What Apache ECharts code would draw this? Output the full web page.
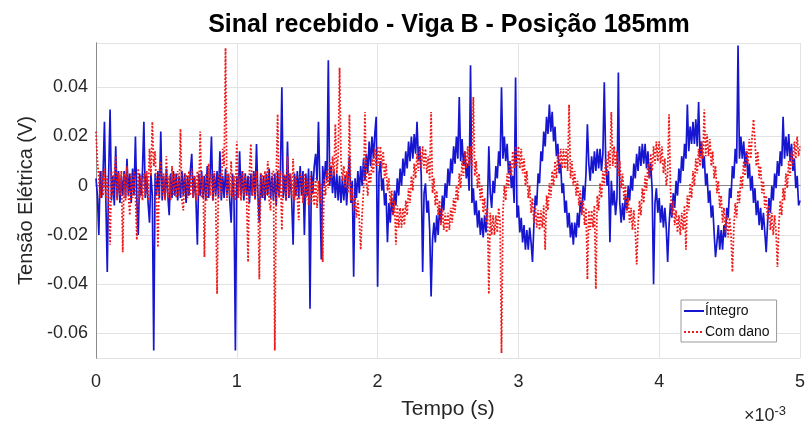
<!DOCTYPE html>
<html>
<head>
<meta charset="utf-8">
<script src="https://cdn.jsdelivr.net/npm/echarts@6/dist/echarts.min.js"></script>
<style>html,body{margin:0;padding:0;background:#fff}#c{width:811px;height:430px}</style>
</head>
<body>
<div id="c"></div>
<script>
// Sampling step of the plotted signals (units of 1e-3 s)
const passoAmostragem = 0.01;
const xTickLabels = ['0', '1', '2', '3', '4', '5'];
const yTickLabels = ['-0.06', '-0.04', '-0.02', '0', '0.02', '0.04'];
const seriesNames = ['Íntegro', 'Com dano'];

// Íntegro (V): one value per sample, t = 0 .. 5 (x1e-3 s), 20 samples per row
const integro = [
  0.003, -0.004, -0.020, 0.006, -0.005, 0.004, 0.026, -0.006, -0.035, 0.005, 0.031, -0.006, 0.004, -0.008, 0.016, -0.005, 0.006, -0.007, 0.004, -0.004,
  0.006, -0.005, 0.011, -0.004, 0.005, -0.007, 0.007, -0.004, 0.020, -0.006, -0.020, 0.005, -0.004, 0.006, 0.026, -0.005, 0.004, -0.007, -0.015, 0.005,
  -0.004, -0.067, 0.005, -0.004, 0.006, -0.005, 0.022, -0.006, 0.004, -0.005, 0.007, -0.004, -0.012, 0.005, -0.005, 0.006, -0.004, 0.005, -0.006, 0.004,
  -0.005, 0.006, -0.004, 0.005, -0.007, 0.004, -0.004, 0.006, 0.013, -0.005, 0.004, -0.006, -0.024, 0.005, -0.004, 0.006, -0.005, 0.004, -0.006, 0.008,
  -0.005, 0.004, 0.020, -0.006, 0.005, -0.004, 0.006, -0.005, 0.014, -0.006, 0.004, -0.005, 0.007, -0.004, 0.005, -0.006, -0.015, 0.005, -0.004, -0.067,
  0.004, -0.005, 0.014, -0.004, 0.006, -0.006, 0.005, -0.004, 0.004, -0.007, 0.005, -0.004, 0.006, -0.005, 0.017, -0.004, -0.015, 0.005, -0.005, 0.004,
  -0.006, 0.005, -0.004, 0.007, -0.005, 0.004, -0.006, 0.005, -0.008, 0.006, -0.004, 0.005, 0.040, -0.005, 0.004, -0.006, 0.018, -0.005, 0.005, -0.006,
  -0.024, 0.005, -0.004, 0.006, -0.005, 0.008, -0.004, 0.006, -0.020, 0.005, -0.004, 0.007, -0.050, 0.006, -0.003, 0.008, 0.013, 0.002, 0.026, 0.001,
  -0.030, 0.008, 0.000, 0.010, 0.002, 0.051, 0.000, 0.008, -0.003, 0.006, -0.005, 0.005, -0.006, 0.004, -0.007, 0.003, -0.006, 0.004, -0.008, 0.003,
  0.012, -0.007, 0.002, -0.037, 0.003, -0.005, 0.006, -0.003, 0.008, 0.000, 0.011, 0.002, 0.013, 0.005, 0.018, 0.008, 0.020, 0.011, 0.021, 0.028,
  -0.041, 0.005, 0.010, -0.002, 0.003, -0.008, -0.003, -0.023, -0.007, -0.015, -0.005, -0.012, -0.002, -0.008, 0.003, -0.004, 0.007, 0.000, 0.011, 0.004,
  0.014, 0.007, 0.018, 0.010, 0.020, 0.011, 0.021, 0.013, 0.026, 0.010, 0.016, 0.004, -0.035, -0.003, 0.001, -0.011, -0.006, -0.018, -0.045, -0.022,
  -0.015, -0.023, -0.012, -0.020, -0.009, -0.015, -0.004, -0.010, 0.001, -0.005, 0.007, 0.000, 0.011, 0.005, 0.016, 0.009, 0.020, 0.011, 0.036, 0.010,
  0.019, 0.008, 0.014, 0.003, 0.009, -0.002, 0.049, -0.007, -0.001, -0.012, -0.006, -0.017, -0.010, -0.020, -0.013, -0.021, -0.012, -0.019, -0.008, 0.016,
  -0.003, -0.009, 0.002, -0.003, 0.008, 0.003, 0.014, 0.008, 0.040, 0.011, 0.020, 0.010, 0.017, 0.005, 0.010, -0.001, 0.004, -0.007, 0.044, -0.013,
  -0.008, -0.019, -0.013, -0.023, -0.016, -0.026, -0.018, -0.026, -0.017, -0.023, -0.031, -0.016, -0.004, -0.008, 0.005, 0.001, 0.014, 0.010, 0.022, 0.016,
  0.028, 0.021, 0.033, 0.022, 0.030, 0.018, 0.024, 0.012, 0.017, 0.005, 0.009, -0.003, 0.001, -0.011, -0.006, -0.017, -0.011, -0.021, -0.015, -0.024,
  -0.015, -0.021, -0.011, -0.017, -0.006, -0.011, 0.000, -0.006, 0.005, 0.025, 0.009, 0.002, 0.012, 0.005, 0.014, 0.006, 0.015, 0.007, 0.015, 0.006,
  0.013, 0.042, 0.010, 0.000, 0.006, -0.023, 0.002, -0.008, -0.002, -0.012, -0.005, 0.046, -0.007, -0.015, -0.007, -0.014, -0.004, -0.010, 0.000, -0.006,
  0.004, -0.002, 0.009, 0.003, 0.013, 0.006, 0.016, 0.008, 0.017, 0.009, 0.017, 0.007, 0.014, 0.003, 0.009, -0.002, -0.040, -0.007, -0.001, -0.011,
  -0.005, -0.015, -0.008, -0.017, -0.009, -0.017, -0.031, -0.016, -0.007, -0.013, -0.003, -0.009, 0.002, -0.004, 0.007, 0.001, 0.012, 0.006, 0.017, 0.011,
  0.033, 0.014, 0.024, 0.017, 0.026, 0.017, 0.027, 0.016, 0.034, 0.012, 0.018, 0.007, 0.012, 0.000, 0.005, -0.007, -0.002, -0.013, -0.008, -0.019,
  -0.029, -0.023, -0.016, -0.026, -0.018, -0.026, -0.016, -0.021, -0.009, -0.013, -0.001, -0.005, 0.008, 0.003, 0.015, 0.009, 0.057, 0.011, 0.020, 0.011,
  0.018, 0.008, 0.014, 0.003, 0.009, -0.002, 0.004, -0.007, -0.001, -0.012, -0.006, -0.016, -0.009, -0.018, -0.011, -0.019, -0.027, -0.015, -0.005, -0.011,
  0.000, -0.006, 0.005, -0.001, 0.010, 0.004, 0.014, 0.008, 0.028, 0.011, 0.020, 0.012, 0.021, 0.010, 0.017, 0.006, 0.011, -0.001, 0.004, -0.008,
  -0.006
];

// Com dano (V)
const comDano = [
  0.022, 0.010, 0.003, -0.005, 0.006, -0.004, 0.007, -0.006, 0.004, -0.005, -0.024, 0.006, -0.004, 0.005, 0.012, -0.006, 0.005, -0.004, 0.006, -0.027,
  0.005, -0.006, 0.008, -0.004, -0.012, 0.005, -0.005, 0.006, -0.004, -0.022, 0.007, -0.005, 0.004, -0.006, 0.005, -0.004, 0.006, -0.006, 0.015, 0.004,
  0.026, 0.008, 0.014, -0.005, -0.025, 0.006, 0.010, -0.004, 0.005, -0.006, 0.012, -0.005, 0.004, -0.006, 0.008, -0.004, 0.005, -0.005, 0.006, -0.004,
  0.023, -0.006, -0.010, 0.005, 0.004, -0.005, 0.006, -0.004, 0.007, -0.005, 0.004, -0.006, 0.006, -0.004, 0.022, -0.005, 0.004, -0.029, 0.005, -0.006,
  0.009, -0.004, 0.005, -0.006, 0.006, -0.005, -0.044, 0.004, 0.005, -0.004, 0.015, 0.008, 0.056, -0.006, 0.005, -0.004, 0.010, -0.005, 0.004, -0.006,
  0.018, -0.005, 0.004, -0.006, 0.006, -0.004, 0.005, -0.005, -0.031, 0.006, 0.017, -0.004, 0.005, -0.006, 0.006, -0.005, -0.038, 0.005, 0.004, -0.005,
  0.006, -0.004, 0.010, -0.006, -0.010, 0.005, 0.006, -0.067, 0.004, 0.029, -0.005, 0.006, -0.018, 0.005, 0.004, -0.006, 0.012, -0.004, 0.005, -0.005,
  0.011, -0.006, 0.004, -0.005, -0.014, 0.005, 0.004, -0.007, 0.005, -0.006, 0.003, -0.008, 0.004, -0.007, 0.002, -0.008, 0.003, -0.009, 0.002, -0.007,
  0.001, -0.031, 0.003, -0.004, 0.006, -0.001, 0.010, 0.002, 0.012, 0.004, 0.025, 0.005, 0.012, 0.048, 0.010, 0.002, 0.008, -0.001, 0.006, -0.003,
  0.029, -0.006, -0.001, -0.010, -0.004, -0.013, -0.006, -0.014, -0.026, -0.012, -0.002, 0.030, 0.002, -0.004, 0.006, 0.001, 0.011, 0.005, 0.015, 0.008,
  0.016, 0.008, 0.016, 0.007, 0.014, 0.003, 0.009, -0.002, 0.003, -0.008, -0.002, -0.012, -0.006, -0.024, -0.008, -0.017, -0.009, -0.017, -0.009, -0.016,
  -0.006, -0.012, -0.001, -0.007, 0.004, -0.002, 0.009, 0.003, 0.013, 0.006, 0.015, 0.007, 0.016, 0.007, 0.015, 0.005, 0.012, 0.002, 0.030, -0.003,
  0.003, -0.008, -0.002, -0.012, -0.006, -0.016, -0.009, -0.018, -0.011, -0.019, -0.011, -0.018, -0.009, -0.015, -0.005, -0.011, 0.000, -0.006, 0.005, -0.001,
  0.010, 0.004, 0.014, 0.007, 0.016, 0.008, 0.016, 0.007, 0.036, 0.004, 0.010, -0.001, 0.005, -0.006, 0.000, -0.011, -0.005, -0.015, -0.009, -0.044,
  -0.011, -0.020, -0.012, -0.020, -0.012, -0.019, -0.009, -0.015, -0.068, -0.011, 0.000, -0.006, 0.005, -0.001, 0.010, 0.004, 0.014, 0.007, 0.016, 0.008,
  0.016, 0.007, 0.015, 0.005, 0.011, 0.000, 0.006, -0.005, 0.000, -0.011, -0.005, -0.015, -0.008, -0.017, -0.010, -0.018, -0.010, -0.017, -0.008, -0.026,
  -0.004, -0.010, 0.001, -0.005, 0.006, 0.000, 0.010, 0.003, 0.013, 0.006, 0.015, 0.007, 0.015, 0.007, 0.015, 0.006, 0.033, 0.003, 0.010, 0.000,
  0.006, -0.004, 0.002, -0.008, -0.002, -0.012, -0.006, -0.016, -0.009, -0.038, -0.010, -0.018, -0.010, -0.017, -0.008, -0.042, -0.004, -0.010, 0.001, -0.005,
  0.006, 0.000, 0.011, 0.004, 0.014, 0.007, 0.030, 0.008, 0.016, 0.007, 0.014, 0.004, 0.010, -0.001, 0.005, -0.006, 0.000, -0.011, -0.005, -0.015,
  -0.009, -0.018, -0.010, -0.018, -0.032, -0.016, -0.006, -0.012, -0.001, -0.007, 0.004, -0.002, 0.009, 0.003, 0.013, 0.006, 0.016, 0.009, 0.018, 0.010,
  0.018, 0.009, 0.016, 0.005, 0.011, 0.000, 0.005, 0.029, -0.001, -0.012, -0.006, -0.016, -0.010, -0.019, -0.012, -0.020, -0.011, -0.018, -0.008, -0.026,
  -0.004, -0.010, 0.001, -0.005, 0.006, 0.000, 0.011, 0.005, 0.015, 0.008, 0.018, 0.011, 0.031, 0.012, 0.021, 0.012, 0.019, 0.008, 0.014, 0.003,
  0.008, -0.003, 0.002, -0.009, -0.004, -0.015, -0.009, -0.019, -0.012, -0.021, -0.013, -0.020, -0.035, -0.017, -0.007, -0.013, -0.002, -0.007, 0.004, -0.001,
  0.010, 0.004, 0.015, 0.009, 0.019, 0.011, 0.020, 0.027, 0.018, 0.008, 0.014, 0.003, 0.008, -0.003, 0.002, -0.009, -0.004, -0.014, -0.008, -0.018,
  -0.011, -0.020, -0.012, -0.019, -0.033, -0.016, -0.006, -0.012, -0.001, -0.006, 0.005, -0.001, 0.010, 0.004, 0.014, 0.008, 0.018, 0.011, 0.020, 0.012,
  0.016
];

const pares = arr => arr.map((v, i) => [+(i * passoAmostragem).toFixed(2), v]);

const FONT = 'Liberation Sans';
const AX = '#8a8a8a';
const chart = echarts.init(document.getElementById('c'), null, {renderer: 'canvas'});
chart.setOption({
  animation: false,
  backgroundColor: '#ffffff',
  title: {
    text: 'Sinal recebido - Viga B - Posição 185mm',
    left: 444, top: 8, textAlign: 'center',
    textStyle: {fontFamily: FONT, fontSize: 25, fontWeight: 'bold', color: '#000'}
  },
  grid: {left: 96, right: 11, top: 43, bottom: 72, containLabel: false},
  legend: {
    orient: 'vertical', left: 681, top: 300,
    itemWidth: 20, itemHeight: 10, itemGap: 7,
    padding: [4, 7, 3, 2],
    borderColor: '#9a9a9a', borderWidth: 1, backgroundColor: '#fff',
    itemStyle: {opacity: 0, borderWidth: 0},
    textStyle: {fontFamily: FONT, fontSize: 14, color: '#111', padding: [0, 0, 0, -4]},
    data: seriesNames
  },
  xAxis: [{
    type: 'value', min: 0, max: 5, interval: 1,
    name: 'Tempo (s)', nameLocation: 'middle', nameGap: 41,
    nameTextStyle: {fontFamily: FONT, fontSize: 21, color: '#262626'},
    axisLine: {show: true, lineStyle: {color: AX, width: 1}},
    axisTick: {show: false},
    axisLabel: {fontFamily: FONT, fontSize: 18, color: '#262626', margin: 15,
      formatter: v => xTickLabels[Math.round(v)] ?? ''},
    splitLine: {show: true, lineStyle: {color: '#e3e3e3', width: 1}}
  }, {
    type: 'value', min: 0, max: 5, interval: 1, position: 'top',
    axisLine: {show: true, lineStyle: {color: AX, width: 1}},
    axisTick: {show: false},
    axisLabel: {show: false}, splitLine: {show: false}
  }],
  yAxis: [{
    type: 'value', min: -0.07, max: 0.058, splitNumber: 6,
    minInterval: 0.02, maxInterval: 0.02,
    name: 'Tensão Elétrica (V)', nameLocation: 'middle', nameGap: 58,
    nameTextStyle: {fontFamily: FONT, fontSize: 20, color: '#262626'},
    axisLine: {show: true, lineStyle: {color: AX, width: 1}},
    axisTick: {show: false},
    axisLabel: {fontFamily: FONT, fontSize: 18, color: '#262626', margin: 8,
      showMinLabel: false, showMaxLabel: false,
      formatter: v => {
        const q = v / 0.02, k = Math.round(q) + 3;
        return (Math.abs(q - Math.round(q)) < 1e-6 && yTickLabels[k] !== undefined) ? yTickLabels[k] : '';
      }},
    splitLine: {show: true, lineStyle: {color: '#e3e3e3', width: 1}}
  }, {
    type: 'value', min: -0.07, max: 0.058, splitNumber: 6,
    minInterval: 0.02, maxInterval: 0.02, position: 'right',
    axisLine: {show: true, lineStyle: {color: AX, width: 1}},
    axisTick: {show: false},
    axisLabel: {show: false}, splitLine: {show: false}
  }],
  graphic: [{
    type: 'text', left: 744, top: 405,
    style: {
      text: '×10{s|-3}',
      rich: {s: {fontFamily: FONT, fontSize: 13, verticalAlign: 'top', padding: [0, 0, 10, 0], fill: '#262626'}},
      fontFamily: FONT, fontSize: 18, fill: '#262626'
    }
  }],
  series: [{
    name: seriesNames[0], type: 'line', data: pares(integro),
    symbol: 'none', showSymbol: false, sampling: null,
    lineStyle: {color: '#1616d0', width: 1.7},
    itemStyle: {color: '#1616d0'}, z: 2
  }, {
    name: seriesNames[1], type: 'line', data: pares(comDano),
    symbol: 'none', showSymbol: false, sampling: null,
    lineStyle: {color: '#ee1a1a', width: 1.8, type: 'dotted'},
    itemStyle: {color: '#ee1a1a'}, z: 3
  }]
});
</script>
</body>
</html>
